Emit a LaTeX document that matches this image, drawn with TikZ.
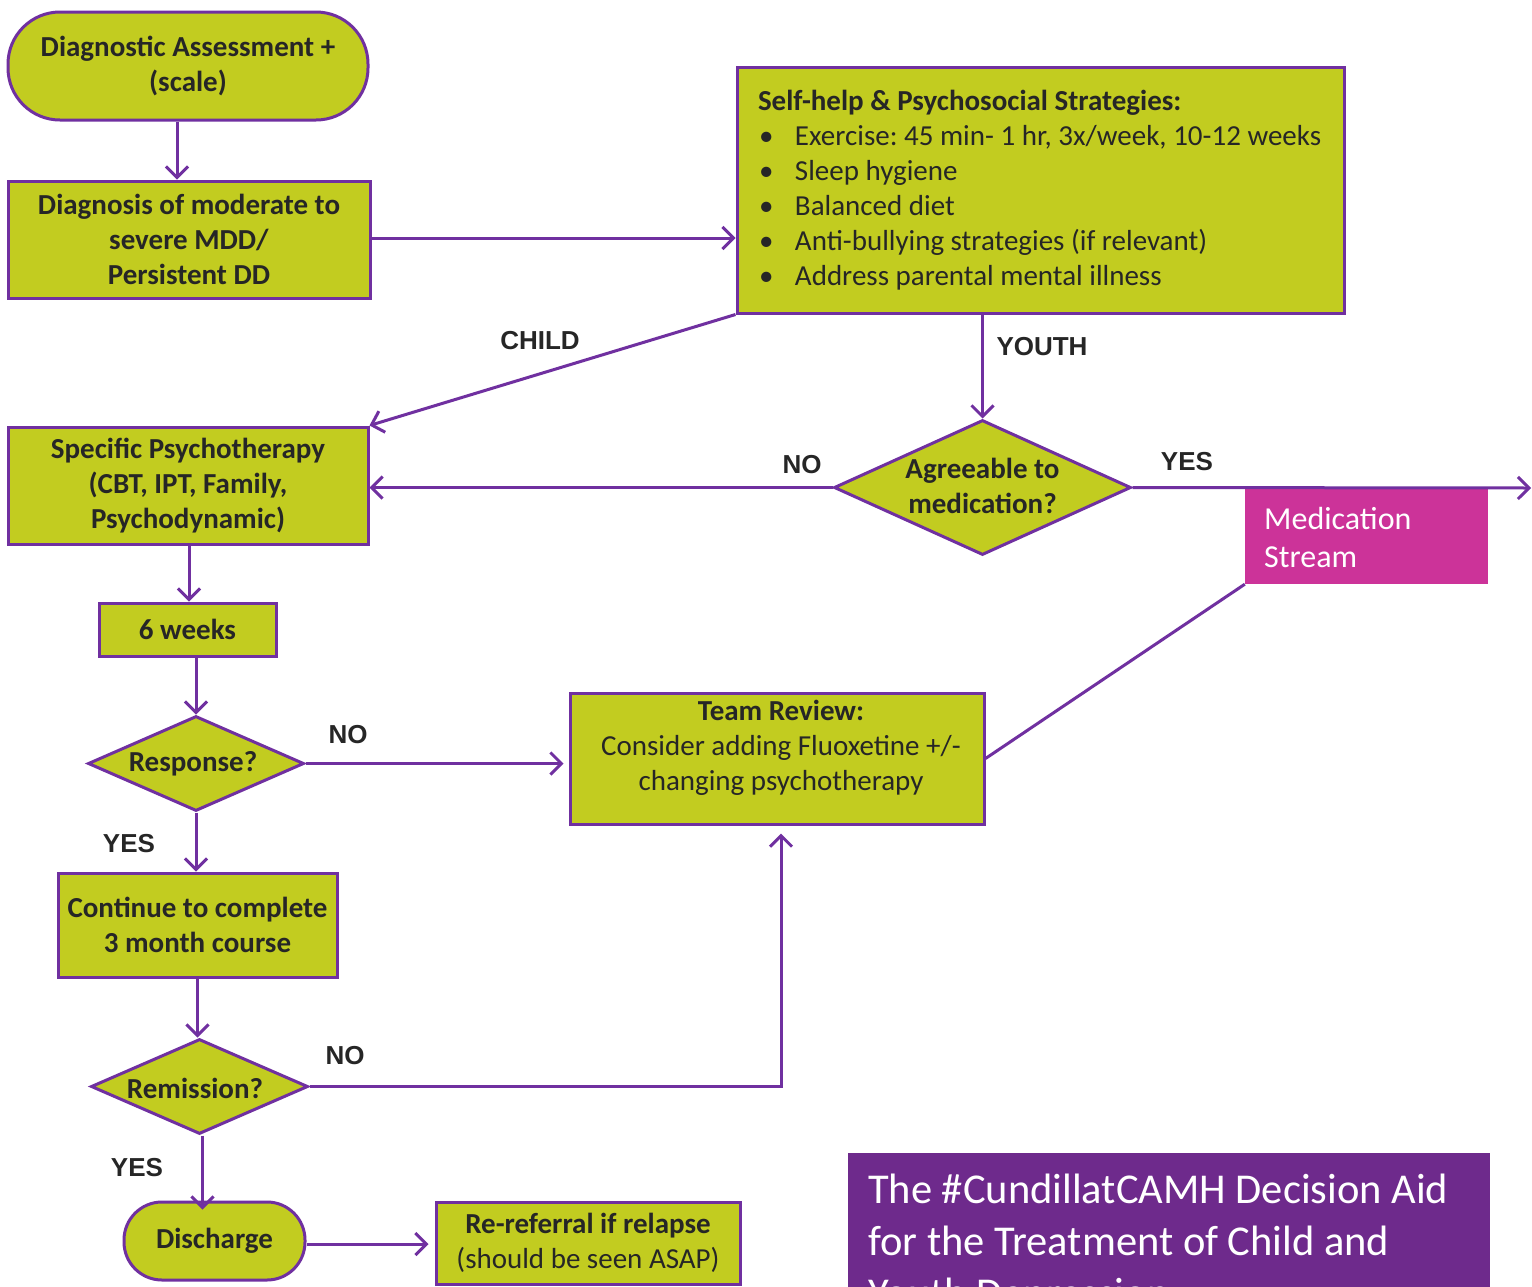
\documentclass[tikz,border=0pt]{standalone}
\usepackage{fontspec}
\setmainfont{Carlito}
\newfontfamily\arialf{Liberation Sans}
\usetikzlibrary{arrows.meta,shapes.geometric}
\definecolor{lime}{RGB}{194,204,32}
\definecolor{purp}{RGB}{112,48,160}
\definecolor{titlep}{RGB}{110,42,140}
\definecolor{mag}{RGB}{204,51,153}
\definecolor{ink}{RGB}{38,38,38}
\frenchspacing
\tikzset{
  box/.style={draw=purp, fill=lime, line width=3pt, inner sep=0pt, text=ink, align=center,
    font=\fontsize{29}{35}\selectfont\bfseries},
  stadium/.style={box, rounded corners=#1},
  dia/.style={diamond, draw=purp, fill=lime, line width=3pt, inner sep=0pt},
  dtext/.style={text=ink, align=center, inner sep=0pt, font=\fontsize{29}{35}\selectfont\bfseries},
  lbl/.style={text=ink, inner sep=0pt, font=\arialf\fontsize{26}{30}\selectfont\bfseries},
  conn/.style={draw=purp, line width=3pt},
  arr/.style={conn, -{Straight Barb[length=11pt,width=22pt,line width=3pt]}},
}
\begin{document}
\begin{tikzpicture}[x=1pt,y=-1pt]
\path[use as bounding box, clip] (0,0) rectangle (1532,1286);
\fill[white] (0,0) rectangle (1532,1286);

% nodes
\node[stadium=52pt, minimum width=360pt, minimum height=108pt] (assess) at (188,66) {Diagnostic Assessment +\\(scale)};
\node[box, minimum width=362pt, minimum height=117pt] (diag) at (189,239.5) {Diagnosis of moderate to\\severe MDD/\\Persistent DD};
\node[box, minimum width=607pt, minimum height=246pt, text width=565pt, align=flush left] (self) at (1040.5,190)
  {Self-help \& Psychosocial Strategies:\\
   \mdseries\hspace*{1pt}\makebox[36pt][l]{\textbullet}Exercise: 45 min- 1 hr, 3x/week, 10-12 weeks\\
   \mdseries\hspace*{1pt}\makebox[36pt][l]{\textbullet}Sleep hygiene\\
   \mdseries\hspace*{1pt}\makebox[36pt][l]{\textbullet}Balanced diet\\
   \mdseries\hspace*{1pt}\makebox[36pt][l]{\textbullet}Anti-bullying strategies (if relevant)\\
   \mdseries\hspace*{1pt}\makebox[36pt][l]{\textbullet}Address parental mental illness};
\node[box, minimum width=360pt, minimum height=117pt] (spec) at (188,485.5) {Specific Psychotherapy\\(CBT, IPT, Family,\\Psychodynamic)};
\node[box, minimum width=177pt, minimum height=53pt] (weeks) at (187.5,629.5) {6 weeks};
\node[dia, minimum width=216pt, minimum height=95pt] (resp) at (196,763.5) {};
\node[dtext] (resptext) at (193,764) {Response?};
\node[box, minimum width=414pt, minimum height=131pt] (team) at (777,758.5) {};
\node[dtext] (teamtext) at (781,748) {Team Review:\\\mdseries Consider adding Fluoxetine +/-\\\mdseries changing psychotherapy};
\node[dia, minimum width=297pt, minimum height=135pt] (agree) at (982.5,487.5) {};
\node[dtext] (agreetext) at (982.5,486) {Agreeable to\\medication?};
\node[fill=mag, minimum width=243pt, minimum height=96pt, inner sep=0pt] (med) at (1366.5,536) {};
\node[text=white, align=left, anchor=west, inner sep=0pt, font=\fontsize{32}{38}\selectfont] (medtext) at (1264,537) {Medication\\Stream};
\node[box, minimum width=279pt, minimum height=104pt] (cont) at (197.5,925) {Continue to complete\\3 month course};
\node[dia, minimum width=217pt, minimum height=95pt] (rem) at (199.5,1086.5) {};
\node[dtext] (remtext) at (195,1088) {Remission?};
\node[stadium=38pt, minimum width=181pt, minimum height=78pt] (disc) at (214.5,1241) {Discharge};
\node[box, minimum width=304pt, minimum height=82pt] (reref) at (588,1243) {Re-referral if relapse\\\mdseries (should be seen ASAP)};
\node[fill=titlep, anchor=north west, minimum width=642pt, minimum height=200pt, inner sep=0pt] (title) at (848,1153) {};
\node[text=white, align=left, anchor=north west, inner sep=0pt, font=\fontsize{42.5}{52}\selectfont] (titletext) at (868,1174)
  {The \#CundillatCAMH Decision Aid\\for the Treatment of Child and\\Youth Depression};
\coordinate (yesend) at (1531,488);

% connectors
\draw[arr] ([xshift=-11pt]assess.south) -- ([xshift=-11pt]assess.south |- diag.north);
\draw[arr] (diag.east |- 0,238) -- (self.west |- 0,238);
\draw[arr] (self.south west) -- (spec.north east);
\draw[arr] (self.south -| agree.north) -- (agree.north);
\draw[arr] (agree.west) -- (agree.west -| spec.east);
\draw[arr] (agree.east) -- (yesend);
\draw[arr] ([xshift=1pt]spec.south) -- ([xshift=1pt]spec.south |- weeks.north);
\draw[arr] (weeks.south -| resp.north) -- (resp.north);
\draw[arr] (resp.east) -- ([xshift=-5pt]resp.east -| team.west);
\draw[arr] (resp.south) -- (resp.south |- cont.north);
\draw[arr] (cont.south) -- (cont.south |- rem.north);
\draw[arr] (rem.east) -| ([xshift=4pt,yshift=-8pt]team.south);
\draw[arr] ([xshift=3pt]rem.south) -- ([xshift=3pt,yshift=-9pt]rem.south |- disc.north);
\draw[arr] (disc.east |- 0,1244) -- ([xshift=-6pt]reref.west |- 0,1244);
\draw[conn] (med.south west) -- (team.east);

% labels
\node[lbl] (lchild) at (540,341) {CHILD};
\node[lbl] (lyouth) at (1042,347) {YOUTH};
\node[lbl] (lno1) at (802,465) {NO};
\node[lbl] (lyes1) at (1187,462) {YES};
\node[lbl] (lno2) at (348,735) {NO};
\node[lbl] (lyes2) at (129,844) {YES};
\node[lbl] (lno3) at (345,1056) {NO};
\node[lbl] (lyes3) at (137,1168) {YES};
\end{tikzpicture}
\end{document}
